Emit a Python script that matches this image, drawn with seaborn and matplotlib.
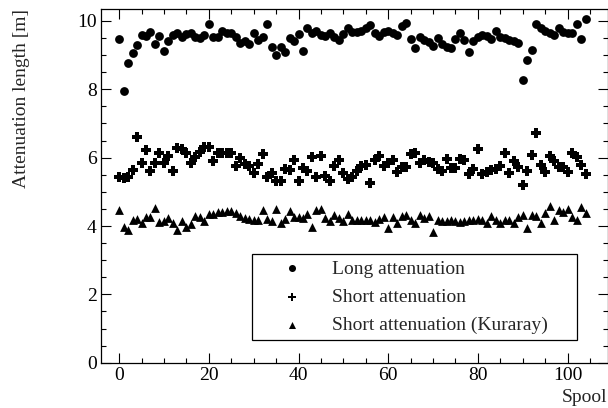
import numpy as np
import pandas as pd
import seaborn as sns
import matplotlib
matplotlib.use("Agg")
from matplotlib import pyplot as plt
from matplotlib.ticker import MultipleLocator

# values, spools 0..104
spool = list(range(105))

long_att = [9.47, 7.96, 8.78, 9.05, 9.31, 9.58, 9.56, 9.67, 9.34, 9.57,
            9.12, 9.42, 9.60, 9.66, 9.53, 9.62, 9.66, 9.53, 9.51, 9.58,
            9.91, 9.52, 9.52, 9.71, 9.66, 9.64, 9.52, 9.35, 9.40, 9.32,
            9.64, 9.44, 9.52, 9.91, 9.25, 8.99, 9.25, 9.10, 9.49, 9.41,
            9.62, 9.13, 9.79, 9.66, 9.72, 9.59, 9.56, 9.66, 9.54, 9.44,
            9.62, 9.79, 9.69, 9.69, 9.72, 9.79, 9.88, 9.66, 9.56, 9.69,
            9.72, 9.66, 9.59, 9.85, 9.93, 9.47, 9.20, 9.54, 9.44, 9.37,
            9.27, 9.49, 9.33, 9.23, 9.22, 9.46, 9.64, 9.44, 9.08, 9.40,
            9.52, 9.60, 9.56, 9.46, 9.72, 9.54, 9.49, 9.44, 9.41, 9.35,
            8.27, 8.86, 9.15, 9.91, 9.79, 9.72, 9.66, 9.59, 9.79, 9.69,
            9.64, 9.66, 9.91, 9.47, 10.05]

short_att = [5.42, 5.40, 5.44, 5.64, 6.60, 5.83, 6.22, 5.61, 5.85, 6.13,
             5.85, 6.05, 5.61, 6.27, 6.24, 6.13, 5.85, 6.03, 6.18, 6.30,
             6.30, 5.90, 6.13, 6.13, 6.13, 6.13, 5.77, 5.99, 5.80, 5.77,
             5.54, 5.82, 6.12, 5.44, 5.54, 5.33, 5.33, 5.66, 5.65, 5.94,
             5.33, 5.71, 5.60, 6.02, 5.44, 6.04, 5.45, 5.31, 5.76, 5.92,
             5.54, 5.38, 5.44, 5.60, 5.76, 5.79, 5.26, 5.94, 6.04, 5.76,
             5.83, 5.93, 5.59, 5.73, 5.74, 6.12, 6.14, 5.84, 5.94, 5.88,
             5.84, 5.66, 5.62, 5.95, 5.70, 5.70, 5.95, 5.94, 5.53, 5.66,
             6.24, 5.52, 5.57, 5.64, 5.68, 5.77, 6.15, 5.55, 5.90, 5.74,
             5.21, 5.60, 6.08, 6.73, 5.79, 5.59, 6.05, 5.90, 5.74, 5.74,
             5.59, 6.15, 6.03, 5.79, 5.53]

kuraray_att = [4.47, 3.98, 3.87, 4.18, 4.20, 4.10, 4.25, 4.25, 4.54, 4.12,
               4.16, 4.22, 4.10, 3.88, 4.16, 3.96, 4.06, 4.29, 4.25, 4.16,
               4.35, 4.35, 4.41, 4.41, 4.43, 4.44, 4.39, 4.30, 4.24, 4.20,
               4.19, 4.17, 4.47, 4.21, 4.14, 4.49, 4.10, 4.21, 4.45, 4.27,
               4.25, 4.24, 4.36, 3.98, 4.47, 4.49, 4.23, 4.15, 4.32, 4.23,
               4.16, 4.34, 4.19, 4.19, 4.19, 4.19, 4.19, 4.12, 4.20, 4.25,
               3.93, 4.25, 4.10, 4.28, 4.32, 4.17, 4.09, 4.32, 4.22, 4.28,
               3.82, 4.19, 4.16, 4.14, 4.17, 4.14, 4.12, 4.14, 4.17, 4.19,
               4.20, 4.17, 4.10, 4.29, 4.19, 4.10, 4.18, 4.19, 4.09, 4.26,
               4.33, 3.94, 4.33, 4.28, 4.09, 4.38, 4.59, 4.18, 4.48, 4.40,
               4.50, 4.26, 4.19, 4.55, 4.39]

sns.set_theme(style="ticks")
plt.rcParams['font.family'] = ['Liberation Serif', 'DejaVu Serif']

fig = plt.figure(figsize=(6.08, 4.08), dpi=100)
ax = fig.add_axes([100.7/608, 1 - 362.7/408, 507.3/608, 353.7/408])

sns.scatterplot(x=spool, y=long_att, ax=ax, marker='o', s=40, color='black',
                linewidth=0, label='Long attenuation')
sns.scatterplot(x=spool, y=short_att, ax=ax, marker='P', s=55, color='black',
                linewidth=0, label='Short attenuation')
sns.scatterplot(x=spool, y=kuraray_att, ax=ax, marker='^', s=40, color='black',
                linewidth=0, label='Short attenuation (Kuraray)')

ax.set_xlim(-4.1, 109)
ax.set_ylim(0, 10.35)
ax.xaxis.set_major_locator(MultipleLocator(20))
ax.xaxis.set_minor_locator(MultipleLocator(5))
ax.yaxis.set_major_locator(MultipleLocator(2))
ax.yaxis.set_minor_locator(MultipleLocator(0.5))
ax.tick_params(which='both', direction='in', top=True, right=True,
               colors='black', labelsize=14, width=0.8)
ax.tick_params(which='major', length=7, pad=3)
ax.tick_params(which='minor', length=3.6)
for sp in ax.spines.values():
    sp.set_color('black')
    sp.set_linewidth(0.9)
ax.set_xlabel('')
ax.set_ylabel('')

fig.text(22/608, 1 - 9/408, 'Attenuation length [m]', rotation=90,
         ha='center', va='top', fontsize=14)
fig.text(607/608, 1 - 397/408, 'Spool', ha='right', va='center', fontsize=14)

leg = ax.legend(loc='lower left', bbox_to_anchor=(0.298, 0.064, 0.641, 0.249),
                mode='expand', borderaxespad=0, fancybox=False, frameon=True,
                edgecolor='black', fontsize=14, handlelength=3.5,
                handletextpad=0.3, labelspacing=0.55, borderpad=0.3,
                markerscale=0.8)
leg.get_frame().set_linewidth(0.9)
leg.get_frame().set_alpha(1)

fig.savefig('out.png', dpi=100)
